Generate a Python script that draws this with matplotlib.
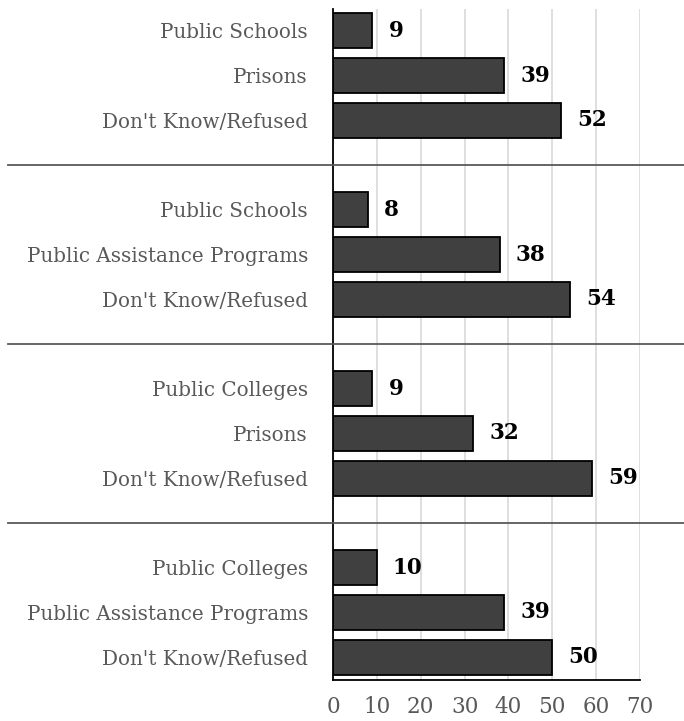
import matplotlib
matplotlib.use("Agg")
import matplotlib.pyplot as plt
import matplotlib.transforms as mtransforms

categories = [
    "Public Schools", "Prisons", "Don't Know/Refused",
    "Public Schools", "Public Assistance Programs", "Don't Know/Refused",
    "Public Colleges", "Prisons", "Don't Know/Refused",
    "Public Colleges", "Public Assistance Programs", "Don't Know/Refused",
]
values = [9, 39, 52, 8, 38, 54, 9, 32, 59, 10, 39, 50]
group_size = 3
x_ticks = [0, 10, 20, 30, 40, 50, 60, 70]

W, H = 684, 721
fig = plt.figure(figsize=(W / 100, H / 100), dpi=100)
ax = fig.add_axes([333 / W, 1 - 679.5 / H, (640 - 333) / W, (679.5 - 8.5) / H])

font = "DejaVu Serif"
label_gray = "#595959"

# slot positions: each group takes 3 bars + 1 gap slot
ypos = []
for i in range(len(values)):
    g = i // group_size
    ypos.append(i + g)
sep_pos = [(g + 1) * (group_size + 1) - 1 for g in range(len(values) // group_size - 1)]

ax.barh(ypos, values, height=0.78, color="#404040", edgecolor="black", linewidth=1.3, zorder=3)

for y, v in zip(ypos, values):
    ax.annotate(str(v), (v, y), xytext=(16, 0), textcoords="offset pixels",
                ha="left", va="center", fontsize=15.5, fontweight="bold", family=font, color="black")

ax.set_ylim(ypos[-1] + 0.5, -0.5)
ax.set_xlim(0, 70)
ax.set_yticks(ypos)
ax.set_yticklabels(categories, family=font, fontsize=14.3, color=label_gray)
ax.set_xticks(x_ticks)
ax.set_xticklabels([str(t) for t in x_ticks], family=font, fontsize=15.5, color=label_gray)
ax.tick_params(axis="both", length=0)
ax.tick_params(axis="y", pad=18)
ax.tick_params(axis="x", pad=12)

ax.grid(axis="x", color="#d9d9d9", linewidth=1.2, zorder=0)
ax.set_axisbelow(True)
for s in ["top", "right"]:
    ax.spines[s].set_visible(False)
ax.spines["left"].set_color("black")
ax.spines["left"].set_linewidth(1.3)
ax.spines["left"].set_zorder(4)
ax.spines["bottom"].set_color("black")
ax.spines["bottom"].set_linewidth(1.3)

trans = mtransforms.blended_transform_factory(fig.transFigure, ax.transData)
for sp in sep_pos:
    ax.plot([8 / W, 1.0], [sp, sp], transform=trans, color="#595959", linewidth=1.3,
            clip_on=False, zorder=5)

fig.savefig("out.png", dpi=100)
